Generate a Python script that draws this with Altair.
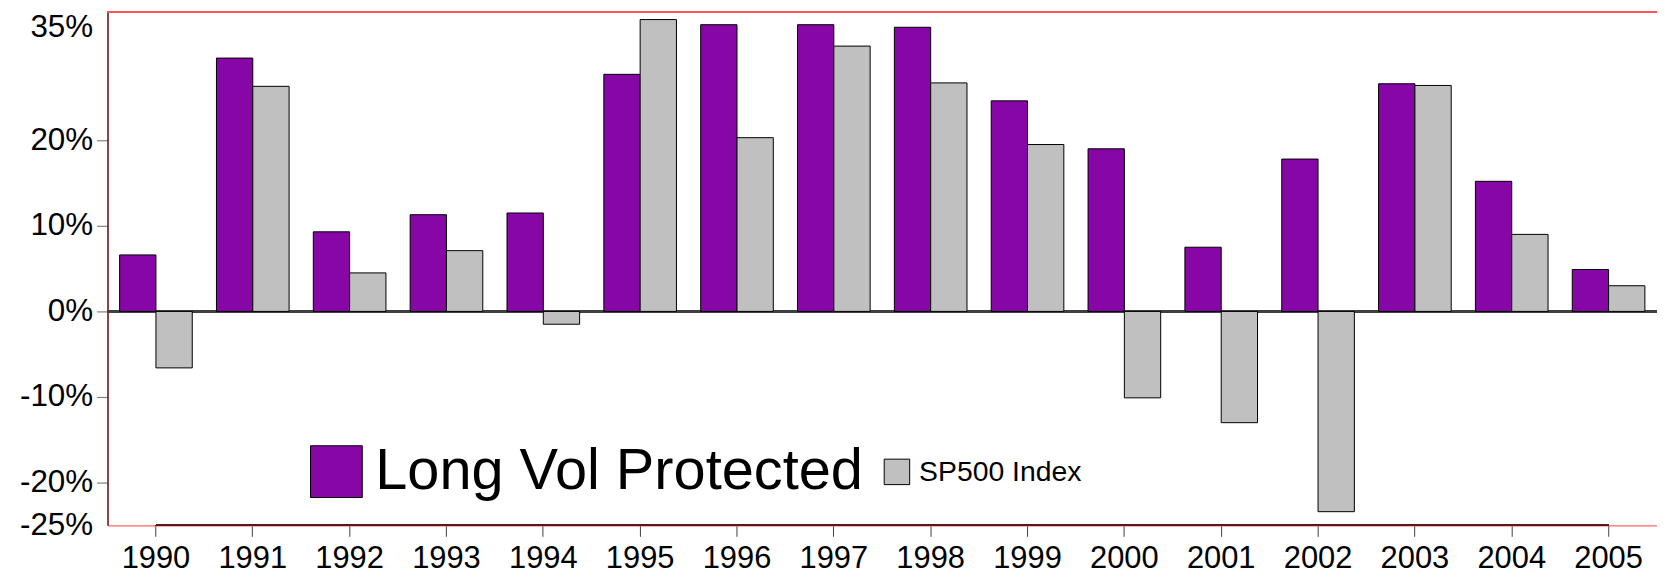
import altair as alt
import pandas as pd

years = ["1990", "1991", "1992", "1993", "1994", "1995", "1996", "1997",
         "1998", "1999", "2000", "2001", "2002", "2003", "2004", "2005"]
long_vol = [6.6, 29.6, 9.3, 11.3, 11.5, 27.7, 33.5, 33.5,
            33.2, 24.6, 19.0, 7.5, 17.8, 26.6, 15.2, 4.9]
sp500 = [-6.6, 26.3, 4.5, 7.1, -1.5, 34.1, 20.3, 31.0,
         26.7, 19.5, -10.1, -13.0, -23.4, 26.4, 9.0, 3.0]
series_names = ["Long Vol Protected", "SP500 Index"]
series_colors = ["#8606A6", "#C0C0C0"]
y_ticks = [35, 20, 10, 0, -10, -20, -25]

rows = []
for i, yr in enumerate(years):
    rows.append({"year": yr, "series": series_names[0], "value": long_vol[i]})
    rows.append({"year": yr, "series": series_names[1], "value": sp500[i]})
df = pd.DataFrame(rows)

FONT = "Liberation Sans"

x_enc = alt.X(
    "year:N", sort=years, title=None,
    scale=alt.Scale(paddingInner=0.25, paddingOuter=0.125),
    axis=alt.Axis(labelAngle=0, labelFont=FONT, labelFontSize=31, labelColor="black",
                  labelPadding=7, tickSize=11, tickColor="#404040", tickWidth=1,
                  domainColor="#FF6666", domainWidth=1.5, bandPosition=0.5, grid=False),
)
y_enc = alt.Y(
    "value:Q", title=None,
    scale=alt.Scale(domain=[-25, 35], nice=False, zero=False),
    axis=alt.Axis(values=y_ticks, labelExpr="datum.value + '%'", labelFont=FONT,
                  labelFontSize=31.5, labelColor="black", labelPadding=4,
                  labelBaseline={"condition": {"test": "datum.value == 35", "value": "top"}, "value": "middle"},
                  tickSize=11, tickColor="#808080", tickWidth=1.2,
                  tickOpacity={"condition": {"test": "datum.value == 35 || datum.value == -25", "value": 0}, "value": 1},
                  domainColor="#5A0A0A", domainWidth=1.5, grid=False),
)
xoff = alt.XOffset("series:N", scale=alt.Scale(domain=series_names, paddingInner=0, paddingOuter=0))

base = alt.Chart(df)

zero_line = base.mark_rule(color="#404040", strokeWidth=1.5).encode(y=alt.datum(0))

bars_a = base.transform_filter(alt.datum.series == series_names[0]).mark_bar(
    stroke="black", strokeWidth=1
).encode(
    x=x_enc, y=y_enc, xOffset=xoff,
    color=alt.Color("series:N", scale=alt.Scale(domain=[series_names[0]], range=[series_colors[0]]),
                    legend=alt.Legend(title=None, orient="none", legendX=201, legendY=433,
                                      symbolType="square", symbolSize=2704, symbolStrokeColor="black",
                                      symbolStrokeWidth=1, labelFont=FONT, labelFontSize=58,
                                      labelColor="black", labelOffset=10, padding=0, labelLimit=0)),
)

bars_b = base.transform_filter(alt.datum.series == series_names[1]).mark_bar(
    stroke="black", strokeWidth=1
).encode(
    x=x_enc, y=y_enc, xOffset=xoff,
    color=alt.Color("series:N", scale=alt.Scale(domain=[series_names[1]], range=[series_colors[1]]),
                    legend=alt.Legend(title=None, orient="none", legendX=779, legendY=448,
                                      symbolType="square", symbolSize=655, symbolStrokeColor="black",
                                      symbolStrokeWidth=1, labelFont=FONT, labelFontSize=28.5,
                                      labelColor="black", labelOffset=8, padding=0, labelLimit=0)),
)

top_border = base.mark_rule(color="#FF5555", strokeWidth=1.5).encode(y=alt.datum(35))

bottom_dark = base.mark_rule(color="#5A1A1A", strokeWidth=1.5).encode(
    x=alt.datum(years[0]), x2=alt.datum(years[-1]), y=alt.datum(-25)
)

chart = alt.layer(zero_line, bars_a, bars_b, top_border, bottom_dark).resolve_scale(
    color="independent"
).properties(
    width=1557, height=516,
    autosize=alt.AutoSizeParams(type="none"),
    padding={"left": 100, "top": 2.5, "right": 0, "bottom": 52},
    background="white",
).configure_view(stroke=None)

chart.save("out.html", embed_options={"renderer": "svg", "actions": False})
